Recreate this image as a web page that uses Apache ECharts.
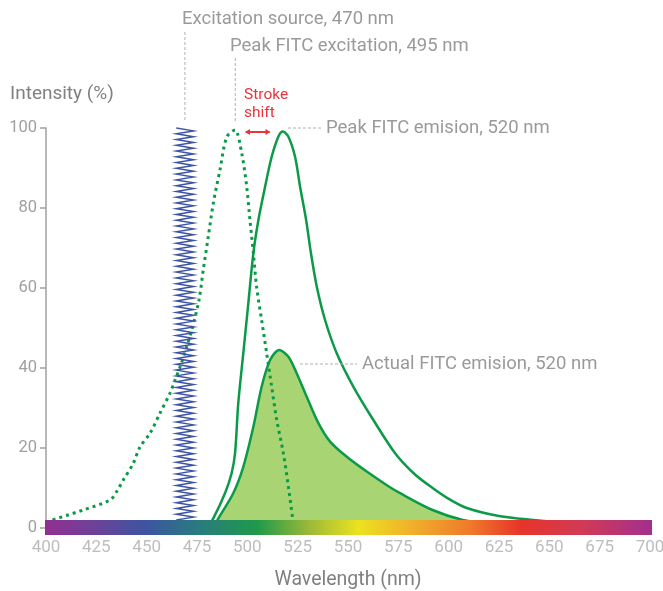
<!DOCTYPE html>
<html>
<head>
<meta charset="utf-8">
<script src="https://cdn.jsdelivr.net/npm/echarts@6/dist/echarts.min.js"></script>
<style>
  html, body { margin: 0; padding: 0; background: #fff; }
  #chart { width: 663px; height: 591px; }
</style>
</head>
<body>
<div id="chart"></div>
<script>
// 波长刻度
const xTicks = [400, 425, 450, 475, 500, 525, 550, 575, 600, 625, 650, 675, 700];
const yTicks = [0, 20, 40, 60, 80, 100];

// FITC 激发曲线 (虚线)
const excitationX = [400, 418.5, 431.8, 435.1, 438.4, 443.4, 446.7, 451.7, 456.6, 461.6, 464.1, 466.6, 469.9, 472.4, 476, 478.1, 480.6, 483.1, 486.4, 489.8, 493.9, 497.2, 499.7, 501.3, 503, 504.6, 507.1, 509.6, 512.1, 514.6, 517.9, 520.4, 522.5, 523];
const excitationY = [1.5, 4.5, 7, 9.1, 12, 16.2, 20.3, 23.7, 28.7, 33.7, 37, 40.3, 45.3, 49.5, 57, 64.5, 72.8, 81.2, 89.5, 97.8, 99.5, 93.7, 85.3, 77, 68.7, 60.3, 52, 43.7, 35.3, 27, 18.7, 10.3, 2.4, 0];

// 峰值发射曲线
const peakEmX = [480, 483.1, 488.9, 492.2, 493.9, 495.5, 498, 500.5, 503, 505.5, 508.8, 512.1, 515.4, 517.6, 520.4, 523.7, 526.2, 529.2, 531.6, 534.5, 538.6, 544.4, 552.7, 562.6, 573.4, 583, 592, 600, 609, 625, 642, 660, 680];
const peakEmY = [0, 2.4, 8.7, 13.7, 18.7, 31.2, 43.7, 56.2, 68.7, 77, 85.3, 92.8, 97.8, 99.1, 97.8, 92.8, 85.3, 77, 68.7, 60.3, 52, 43.7, 35.3, 27, 18.7, 13.5, 10, 7.3, 5, 3, 2, 1.2, 0.6];

// 实际发射曲线 (填充)
const actualEmX = [483, 485.6, 493, 498, 503, 507.1, 511.3, 515.9, 520.4, 524.5, 529.5, 535.3, 541.1, 549.4, 559.3, 569.3, 575.9, 592, 607, 620, 640];
const actualEmY = [0, 2.4, 8.7, 15.3, 25.3, 35.3, 42, 44.5, 42.8, 38.7, 32.8, 26.2, 21.6, 17.8, 14.1, 10.7, 8.7, 4.5, 2, 1, 0];

// 激发光源 (图上读数约 469 nm)
const sourceWavelength = 469;
const sourceIntensity = 100;

// 光谱色带
const spectrumWl = [400, 425, 450, 475, 505, 530, 555, 580, 610, 635, 665, 700];
const spectrumColors = ['#922f92', '#6c4298', '#3c55a1', '#2a7a80', '#1f9a4a', '#9ab838', '#ebe31f', '#f0b22a', '#ef7a2a', '#e8342a', '#d23a55', '#a22f8f'];

const green = '#0b9a48';
const grey = '#9a9a9a';

const chartDom = document.getElementById('chart');
const myChart = echarts.init(chartDom);

const pair = (xs, ys) => xs.map((x, i) => [x, ys[i]]);

const option = {
  animation: false,
  textStyle: { fontFamily: 'Roboto' },
  grid: { left: 46, right: 13, top: 128, bottom: 63, outerBoundsMode: 'none', containLabel: false },
  xAxis: {
    type: 'value',
    min: xTicks[0],
    max: xTicks[xTicks.length - 1],
    interval: 25,
    name: 'Wavelength (nm)',
    nameLocation: 'middle',
    nameGap: 42,
    nameTextStyle: { color: '#808080', fontSize: 19.5, fontFamily: 'Roboto' },
    axisLine: { show: false },
    axisTick: { show: false },
    splitLine: { show: false },
    axisLabel: { color: '#bdbdbd', fontSize: 17, margin: 11, fontFamily: 'Roboto' }
  },
  yAxis: {
    type: 'value',
    min: yTicks[0],
    max: yTicks[yTicks.length - 1],
    interval: 20,
    axisLine: { show: true, lineStyle: { color: '#a0a0a0', width: 1.5 } },
    axisTick: { show: true, length: 6, lineStyle: { color: '#a0a0a0', width: 1.5 } },
    splitLine: { show: false },
    axisLabel: { color: '#a0a0a0', fontSize: 16.5, margin: 9, fontFamily: 'Roboto' }
  },
  series: [
    {
      name: 'Actual FITC emision',
      type: 'line',
      data: pair(actualEmX, actualEmY),
      smooth: 0.3,
      showSymbol: false,
      lineStyle: { color: green, width: 2.5 },
      areaStyle: { color: '#a8d474', opacity: 1 },
      z: 2
    },
    {
      name: 'Peak FITC emision',
      type: 'line',
      data: pair(peakEmX, peakEmY),
      smooth: 0.3,
      showSymbol: false,
      lineStyle: { color: green, width: 2.5 },
      z: 3
    },
    {
      name: 'FITC excitation',
      type: 'line',
      data: pair(excitationX, excitationY),
      smooth: 0.3,
      showSymbol: false,
      lineStyle: { color: green, width: 3, type: [3, 4] },
      z: 4
    },
    {
      // 激发光源画成锯齿
      name: 'Excitation source',
      type: 'custom',
      data: [[sourceWavelength, sourceIntensity]],
      renderItem: (params, api) => {
        const top = api.coord([api.value(0) - 4.3, api.value(1)]);
        const bottom = api.coord([api.value(0) + 4.3, 2]);
        const coils = 68;
        const pts = [];
        for (let i = 0; i <= coils * 2; i++) {
          pts.push([i % 2 === 0 ? top[0] : bottom[0], top[1] + i * (bottom[1] - top[1]) / (coils * 2)]);
        }
        return {
          type: 'polyline',
          shape: { points: pts },
          style: { stroke: '#3e55a6', lineWidth: 1.5, fill: null }
        };
      },
      z: 5
    },
    {
      // 底部光谱色带
      name: 'Spectrum',
      type: 'custom',
      data: [[spectrumWl[0], spectrumWl[spectrumWl.length - 1]]],
      clip: false,
      renderItem: (params, api) => {
        const a = api.coord([api.value(0), 0]);
        const b = api.coord([api.value(1), 0]);
        const span = spectrumWl[spectrumWl.length - 1] - spectrumWl[0];
        return {
          type: 'rect',
          shape: { x: a[0] - 1, y: a[1] - 8, width: b[0] - a[0] + 3, height: 15 },
          style: {
            fill: new echarts.graphic.LinearGradient(0, 0, 1, 0,
              spectrumWl.map((w, i) => ({ offset: (w - spectrumWl[0]) / span, color: spectrumColors[i] })))
          }
        };
      },
      z: 10
    }
  ]
};

myChart.setOption(option);

// 注释 (位置按数据坐标换算)
const px = (x, y) => myChart.convertToPixel({ gridIndex: 0 }, [x, y]);
const dashed = (p1, p2) => ({
  type: 'line',
  shape: { x1: p1[0], y1: p1[1], x2: p2[0], y2: p2[1] },
  style: { stroke: '#b0b0b0', lineWidth: 1, lineDash: [3, 2] },
  z: 20
});
const label = (p, text, color, size) => ({
  type: 'text',
  x: p[0],
  y: p[1],
  style: { text: text, fill: color, fontSize: size, fontFamily: 'Roboto', verticalAlign: 'middle', align: 'left' },
  z: 20
});

const src = px(sourceWavelength, 124);
const exPeak = px(494, 117.5);
const stroke1 = px(498.8, 99);
const stroke2 = px(511.5, 99);
const emPeak = px(520.5, 100);
const actPeak = px(522, 41);

const graphics = [
  label([10, 94.5], 'Intensity (%)', '#808080', 19),
  label([182, 19.5], 'Excitation source, 470 nm', grey, 18.5),
  dashed([src[0], 32], [src[0], 121]),
  label([230, 46], 'Peak FITC excitation, 495 nm', grey, 18.5),
  dashed([exPeak[0], 58], [exPeak[0], 122]),
  label([244, 95], 'Stroke', '#e8343a', 15.5),
  label([244, 113.5], 'shift', '#e8343a', 15.5),
  {
    type: 'line',
    shape: { x1: stroke1[0] + 1, y1: stroke1[1], x2: stroke2[0] - 1, y2: stroke2[1] },
    style: { stroke: '#e8343a', lineWidth: 2 },
    z: 20
  },
  {
    type: 'polygon',
    shape: { points: [[stroke1[0], stroke1[1]], [stroke1[0] + 5, stroke1[1] - 3], [stroke1[0] + 5, stroke1[1] + 3]] },
    style: { fill: '#e8343a' },
    z: 20
  },
  {
    type: 'polygon',
    shape: { points: [[stroke2[0], stroke2[1]], [stroke2[0] - 5, stroke2[1] - 3], [stroke2[0] - 5, stroke2[1] + 3]] },
    style: { fill: '#e8343a' },
    z: 20
  },
  dashed([288, emPeak[1]], [321, emPeak[1]]),
  label([326, emPeak[1]], 'Peak FITC emision, 520 nm', grey, 18.5),
  dashed([300, actPeak[1]], [357, actPeak[1]]),
  label([362, actPeak[1]], 'Actual FITC emision, 520 nm', grey, 18.5)
];

myChart.setOption({ graphic: graphics });

window.addEventListener('resize', () => {
  myChart.resize();
});
</script>
</body>
</html>
